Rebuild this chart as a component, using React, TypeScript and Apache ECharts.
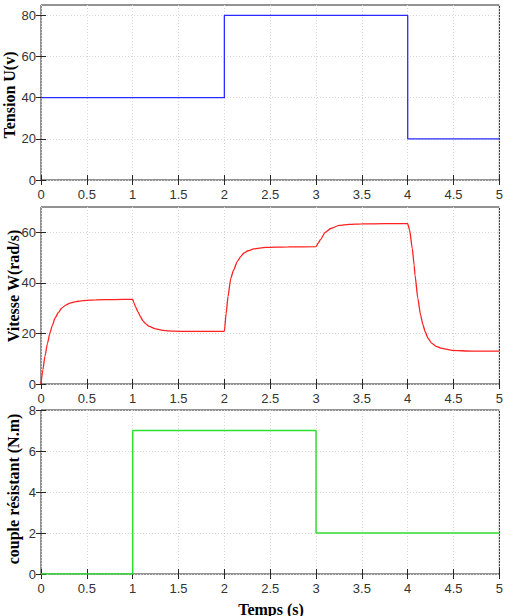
import React, { useEffect, useRef } from "react";
import * as echarts from "echarts";

// Tension U(v)
const tensionT = [0, 2, 2, 4, 4, 5];
const tensionU = [40, 40, 80, 80, 20, 20];

// Vitesse W(rad/s)
const vitesseT = [
  0, 0.02, 0.043, 0.07, 0.097, 0.125, 0.152, 0.19, 0.225, 0.27, 0.315, 0.38, 0.46, 0.6, 0.8, 1.0,
  1.015, 1.03, 1.058, 1.085, 1.11, 1.14, 1.18, 1.25, 1.33, 1.45, 1.58, 1.8, 2.0,
  2.02, 2.04, 2.07, 2.1, 2.14, 2.18, 2.21, 2.26, 2.32, 2.45, 2.7, 3.0,
  3.025, 3.05, 3.1, 3.16, 3.25, 3.36, 3.5, 3.75, 4.0,
  4.02, 4.05, 4.07, 4.08, 4.11, 4.14, 4.165, 4.19, 4.22, 4.26, 4.31, 4.36, 4.48, 4.7, 5.0,
];
const vitesseW = [
  0, 5.5, 10.9, 16, 20.1, 23.3, 26, 28.3, 30, 31.2, 32, 32.6, 33, 33.3, 33.4, 33.5,
  32, 30.6, 28.5, 26.6, 25.1, 23.9, 22.8, 21.8, 21.2, 20.9, 20.8, 20.8, 20.8,
  28, 34.6, 41.8, 45, 48.4, 50.5, 51.7, 52.7, 53.4, 54, 54.2, 54.3,
  55.8, 57.2, 60, 61.5, 62.7, 63.1, 63.3, 63.4, 63.4,
  61, 53.6, 47, 43, 34, 27.3, 23.6, 20.7, 18.2, 16.2, 14.9, 14.2, 13.3, 13.0, 13.0,
];

// couple résistant (N.m)
const coupleT = [0, 1, 1, 3, 3, 5];
const coupleC = [0, 0, 7, 7, 2, 2];

const xTicks = [0, 0.5, 1, 1.5, 2, 2.5, 3, 3.5, 4, 4.5, 5];
const yTicksU = [0, 20, 40, 60, 80];
const yTicksW = [0, 20, 40, 60];
const yTicksC = [0, 2, 4, 6, 8];

const zip = (a: number[], b: number[]) => a.map((v, i) => [v, b[i]]);

export default function App() {
  const ref = useRef<HTMLDivElement>(null);
  useEffect(() => {
    if (!ref.current) return;
    const chart = echarts.init(ref.current, null, { renderer: "svg" });
    const frame = "#262626";
    const gridColor = "#d6d6d6";
    const labelFont = { fontFamily: "Liberation Sans", fontSize: 13, color: "#333333" };
    const grids = [
      { left: 41, right: 5, top: 5, height: 175 },
      { left: 41, right: 5, top: 207, height: 177 },
      { left: 41, right: 5, top: 410, height: 164 },
    ];
    const yCfg = [
      { max: 85, interval: 10, ticks: yTicksU },
      { max: 70, interval: 5, ticks: yTicksW },
      { max: 8, interval: 1, ticks: yTicksC },
    ];
    const dotted = { color: gridColor, type: [1, 2] as any, width: 1 };
    const xAxes: any[] = [];
    const yAxes: any[] = [];
    grids.forEach((_, i) => {
      xAxes.push({
        type: "value", gridIndex: i, min: 0, max: 5, interval: 0.125, position: "bottom",
        axisLine: { show: false },
        axisTick: { show: true, inside: true, length: 5, customValues: xTicks, lineStyle: { color: frame } },
        axisLabel: { ...labelFont, margin: 8, customValues: xTicks, formatter: (v: number) => String(v) },
        splitLine: { show: true, lineStyle: dotted },
      });
      yAxes.push({
        type: "value", gridIndex: i, min: 0, max: yCfg[i].max, interval: yCfg[i].interval, position: "left",
        axisLine: { show: false },
        axisTick: { show: true, inside: true, length: 5, customValues: yCfg[i].ticks, lineStyle: { color: frame } },
        axisLabel: { ...labelFont, margin: 5, customValues: yCfg[i].ticks, formatter: (v: number) => String(v) },
        splitLine: { show: true, lineStyle: dotted },
      });
    });
    grids.forEach((_, i) => {
      xAxes.push({
        type: "value", gridIndex: i, min: 0, max: 5, interval: 0.5, position: "top",
        axisLine: { show: false },
        axisTick: { show: true, inside: true, length: 5, lineStyle: { color: frame } },
        axisLabel: { show: false },
        splitLine: { show: false },
      });
      yAxes.push({
        type: "value", gridIndex: i, min: 0, max: yCfg[i].max, interval: yCfg[i].interval, position: "right",
        axisLine: { show: false },
        axisTick: { show: true, inside: true, length: 5, customValues: yCfg[i].ticks, lineStyle: { color: frame } },
        axisLabel: { show: false },
        splitLine: { show: false },
      });
    });
    const axisNameFont = { fontFamily: "Liberation Serif", fontWeight: "bold", fontSize: 16, fill: "#000" };
    chart.setOption({
      animation: false,
      backgroundColor: "#fff",
      grid: grids.map((g) => ({ ...g, show: true, borderColor: frame, borderWidth: 1, backgroundColor: "#fff" })),
      xAxis: xAxes,
      yAxis: yAxes,
      series: [
        {
          type: "line", xAxisIndex: 0, yAxisIndex: 0, data: zip(tensionT, tensionU), showSymbol: false,
          lineStyle: { color: "#2a2aff", width: 1.3 }, z: 5,
        },
        {
          type: "line", xAxisIndex: 1, yAxisIndex: 1, data: zip(vitesseT, vitesseW), showSymbol: false,
          smooth: 0.2, smoothMonotone: "x",
          lineStyle: { color: "#ff2020", width: 1.3 }, z: 5,
        },
        {
          type: "line", xAxisIndex: 2, yAxisIndex: 2, data: zip(coupleT, coupleC), showSymbol: false,
          lineStyle: { color: "#2ee02e", width: 1.5 }, z: 5,
        },
      ],
      graphic: [
        { type: "text", x: 9, y: 95, rotation: Math.PI / 2, style: { text: "Tension U(v)", ...axisNameFont, align: "center", verticalAlign: "middle" } },
        { type: "text", x: 13, y: 286, rotation: Math.PI / 2, style: { text: "Vitesse W(rad/s)", ...axisNameFont, align: "center", verticalAlign: "middle" } },
        { type: "text", x: 13, y: 489, rotation: Math.PI / 2, style: { text: "couple résistant (N.m)", ...axisNameFont, align: "center", verticalAlign: "middle" } },
        { type: "text", x: 271, y: 609, style: { text: "Temps (s)", ...axisNameFont, align: "center", verticalAlign: "middle" } },
      ],
    });
    return () => chart.dispose();
  }, []);
  return <div ref={ref} style={{ position: "absolute", left: 0, top: 0, width: 506, height: 616 }} />;
}
